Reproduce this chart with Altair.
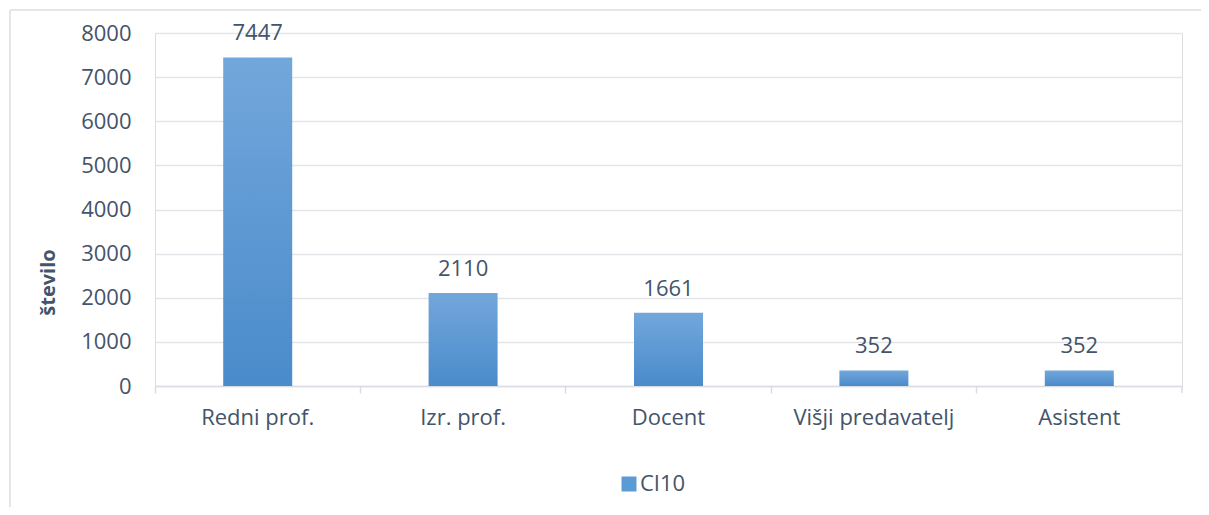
import altair as alt
import pandas as pd

categories = ["Redni prof.", "Izr. prof.", "Docent", "Višji predavatelj", "Asistent"]
values = [7447, 2110, 1661, 352, 352]
series = ["CI10"] * 5
y_ticks = [0, 1000, 2000, 3000, 4000, 5000, 6000, 7000, 8000]

df = pd.DataFrame({"kategorija": categories, "stevilo": values, "serija": series})

FONT = "Open Sans"
TEXT = "#44546a"
GRID = "#e1e5ea"
FS = 22

grad = alt.LinearGradient(
    gradient="linear",
    x1=0, y1=0, x2=0, y2=1,
    stops=[alt.GradientStop(color="#72a7db", offset=0),
           alt.GradientStop(color="#4a8bcb", offset=1)],
)

x_enc = alt.X("kategorija:N", sort=categories, title=None,
              scale=alt.Scale(paddingInner=0, paddingOuter=0),
              axis=alt.Axis(labelAngle=0, labelFont=FONT, labelFontSize=FS,
                            labelColor=TEXT, labelPadding=14, bandPosition=0,
                            tickColor="#d9dde3", tickSize=7, tickWidth=1.5,
                            domainColor="#d9dde3", domainWidth=1.5, grid=False))
y_enc = alt.Y("stevilo:Q", title="število",
              scale=alt.Scale(domain=[0, 8000], nice=False),
              axis=alt.Axis(values=y_ticks, format="d", labelFont=FONT, labelFontSize=FS,
                            labelColor=TEXT, labelPadding=24, ticks=False,
                            domain=False, gridColor=GRID, gridWidth=1.5,
                            titleFont=FONT, titleFontSize=20, titleFontWeight="bold",
                            titleColor=TEXT, titlePadding=22, titleY=249))

bars = alt.Chart(df).mark_bar(width=69, fill=grad).encode(
    x=x_enc,
    y=y_enc,
)

legend_layer = alt.Chart(df).transform_filter("false").mark_square().encode(
    x=alt.X("kategorija:N", sort=categories),
    y="stevilo:Q",
    color=alt.Color("serija:N", title=None,
                    scale=alt.Scale(domain=["CI10"], range=["#5b9bd5"]),
                    legend=alt.Legend(orient="none", legendX=463, legendY=440,
                                      symbolType="square", symbolSize=225,
                                      symbolOpacity=1, symbolStrokeWidth=0,
                                      labelFont=FONT, labelFontSize=FS,
                                      labelColor=TEXT, labelOffset=0)),
)

labels = alt.Chart(df).mark_text(font=FONT, fontSize=FS, color=TEXT,
                                 baseline="alphabetic", dy=-17).encode(
    x=alt.X("kategorija:N", sort=categories),
    y="stevilo:Q",
    text=alt.Text("stevilo:Q", format="d"),
)

end_tick = alt.Chart(df.head(1)).mark_rule(color="#d9dde3", strokeWidth=1.5).encode(
    x=alt.value(1027), y=alt.value(353), y2=alt.value(360)
)

border_left = alt.Chart(df.head(1)).mark_rule(color="#e3e6ea", strokeWidth=2).encode(
    x=alt.value(-145), y=alt.value(-23), y2=alt.value(482)
)
border_top = alt.Chart(df.head(1)).mark_rule(color="#e3e6ea", strokeWidth=2).encode(
    x=alt.value(-145), x2=alt.value(1046), y=alt.value(-23)
)

chart = alt.layer(border_left, border_top, bars, legend_layer, labels, end_tick).properties(
    width=1027, height=353,
    autosize=alt.AutoSizeParams(type="none"),
    padding={"left": 147, "top": 25, "right": 19, "bottom": 121},
).configure_view(stroke=None).configure(background="white")

chart.save("out.html", embed_options={"renderer": "svg", "actions": False})
